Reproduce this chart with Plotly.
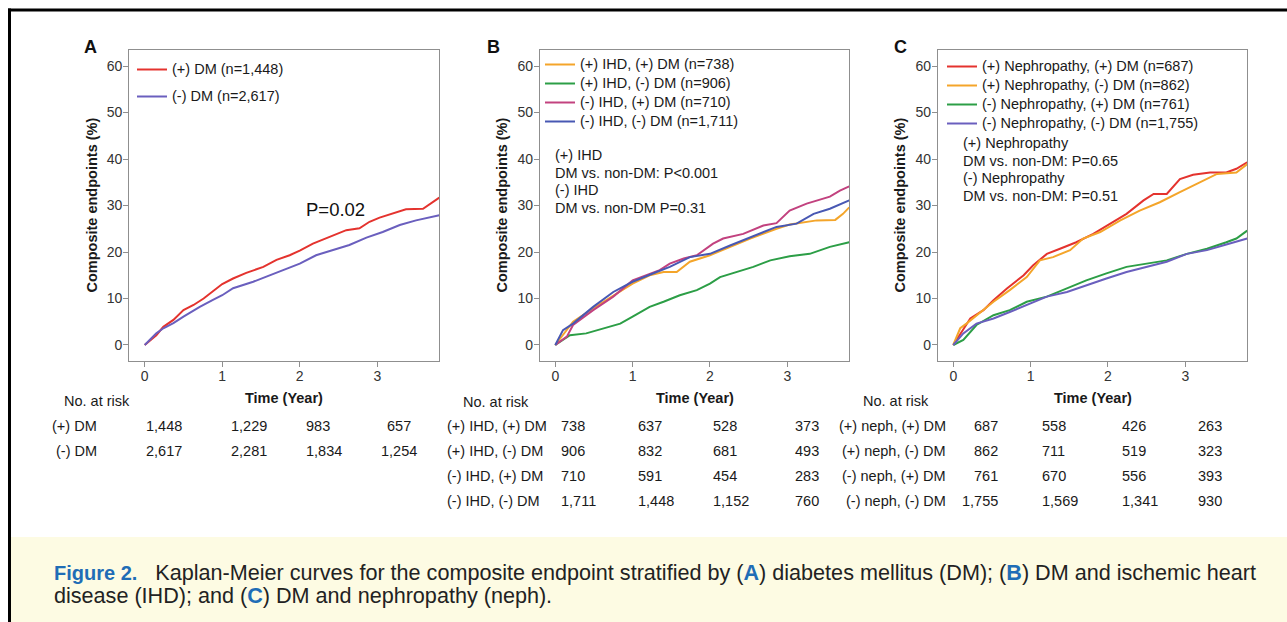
import plotly.graph_objects as go

W, H = 1287, 622

# ---------------- data ----------------
# Panel A
A_pos_t = [0, 0.15, 0.24, 0.37, 0.5, 0.63, 0.76, 0.88, 1.0, 1.14, 1.31, 1.53, 1.70, 1.87, 2.0, 2.17, 2.43, 2.6, 2.77, 2.9, 3.03, 3.2, 3.37, 3.59, 3.72, 3.8]
A_pos_v = [0, 2.1, 3.9, 5.4, 7.5, 8.6, 10.0, 11.5, 13.1, 14.3, 15.5, 16.8, 18.3, 19.3, 20.3, 21.8, 23.6, 24.7, 25.1, 26.5, 27.4, 28.3, 29.2, 29.3, 30.8, 31.7]
A_neg_t = [0, 0.15, 0.24, 0.37, 0.5, 0.71, 0.88, 1.0, 1.14, 1.4, 1.57, 1.79, 2.0, 2.21, 2.43, 2.64, 2.86, 3.07, 3.29, 3.5, 3.8]
A_neg_v = [0, 2.5, 3.6, 4.7, 6.1, 8.2, 9.7, 10.7, 12.2, 13.6, 14.7, 16.1, 17.5, 19.3, 20.4, 21.5, 23.1, 24.3, 25.8, 26.8, 27.9]

# Panel B
B_ihd_dm_t = [0, 0.1, 0.23, 0.49, 0.75, 1.0, 1.22, 1.4, 1.57, 1.74, 2.0, 2.26, 2.52, 2.86, 3.03, 3.38, 3.62, 3.72, 3.8]
B_ihd_dm_v = [0, 2.1, 5.0, 7.9, 10.7, 13.2, 15.0, 15.7, 15.7, 17.9, 19.3, 21.1, 22.9, 25.0, 25.9, 26.8, 26.9, 28.2, 29.6]
B_ihd_nodm_t = [0, 0.1, 0.19, 0.4, 0.62, 0.84, 1.0, 1.22, 1.4, 1.61, 1.83, 2.0, 2.13, 2.34, 2.56, 2.78, 3.03, 3.29, 3.55, 3.8]
B_ihd_nodm_v = [0, 1.1, 2.1, 2.5, 3.6, 4.6, 6.1, 8.2, 9.3, 10.7, 11.8, 13.2, 14.6, 15.7, 16.8, 18.2, 19.1, 19.6, 21.1, 22.1]
B_noihd_dm_t = [0, 0.15, 0.23, 0.49, 0.75, 1.0, 1.35, 1.48, 1.66, 1.83, 2.04, 2.17, 2.43, 2.69, 2.86, 3.03, 3.25, 3.55, 3.68, 3.8]
B_noihd_dm_v = [0, 1.8, 4.3, 7.5, 10.4, 13.9, 16.1, 17.5, 18.6, 19.3, 21.8, 22.9, 23.9, 25.7, 26.2, 28.9, 30.4, 31.9, 33.2, 34.1]
B_noihd_nodm_t = [0, 0.1, 0.23, 0.49, 0.75, 1.0, 1.31, 1.48, 1.74, 2.0, 2.26, 2.52, 2.86, 3.12, 3.34, 3.55, 3.8]
B_noihd_nodm_v = [0, 3.2, 4.6, 8.2, 11.4, 13.6, 15.7, 16.8, 18.9, 19.6, 21.4, 23.2, 25.4, 26.1, 28.2, 29.3, 31.1]

# Panel C
C_neph_dm_t = [0, 0.13, 0.22, 0.39, 0.52, 0.69, 0.91, 1.03, 1.21, 1.38, 1.59, 1.81, 2.03, 2.24, 2.46, 2.59, 2.76, 2.93, 3.1, 3.32, 3.53, 3.66, 3.8]
C_neph_dm_v = [0, 3.2, 5.7, 7.5, 9.6, 12.1, 15.0, 17.1, 19.6, 20.7, 22.1, 23.9, 26.1, 28.2, 31.1, 32.5, 32.5, 35.7, 36.6, 37.1, 37.1, 37.9, 39.3]
C_neph_nodm_t = [0, 0.09, 0.17, 0.3, 0.52, 0.73, 0.95, 1.12, 1.29, 1.51, 1.68, 1.9, 2.16, 2.41, 2.67, 2.93, 3.23, 3.41, 3.66, 3.8]
C_neph_nodm_v = [0, 3.6, 4.6, 6.4, 9.3, 11.8, 14.6, 18.2, 18.9, 20.4, 22.9, 24.3, 26.8, 28.9, 30.7, 32.9, 35.4, 36.8, 37.1, 38.9]
C_noneph_dm_t = [0, 0.13, 0.3, 0.52, 0.73, 0.95, 1.21, 1.47, 1.72, 1.98, 2.24, 2.5, 2.76, 3.02, 3.28, 3.53, 3.66, 3.8]
C_noneph_dm_v = [0, 1.1, 4.3, 6.4, 7.5, 9.3, 10.4, 12.1, 13.9, 15.4, 16.8, 17.5, 18.2, 19.6, 20.7, 22.1, 22.9, 24.6]
C_noneph_nodm_t = [0, 0.13, 0.3, 0.52, 0.73, 0.95, 1.21, 1.47, 1.72, 1.98, 2.24, 2.5, 2.76, 3.02, 3.28, 3.53, 3.8]
C_noneph_nodm_v = [0, 2.5, 4.6, 5.7, 7.1, 8.6, 10.4, 11.4, 12.9, 14.3, 15.7, 16.8, 17.9, 19.6, 20.4, 21.6, 22.9]

A_names = ["(+) DM (n=1,448)", "(-) DM (n=2,617)"]
B_names = ["(+) IHD, (+) DM (n=738)", "(+) IHD, (-) DM (n=906)", "(-) IHD, (+) DM (n=710)", "(-) IHD, (-) DM (n=1,711)"]
C_names = ["(+) Nephropathy, (+) DM (n=687)", "(+) Nephropathy, (-) DM (n=862)", "(-) Nephropathy, (+) DM (n=761)", "(-) Nephropathy, (-) DM (n=1,755)"]

x_ticks = [0, 1, 2, 3]
y_ticks = [0, 10, 20, 30, 40, 50, 60]

A_risk_labels = ["(+) DM", "(-) DM"]
A_risk = [[1448, 1229, 983, 657], [2617, 2281, 1834, 1254]]
B_risk_labels = ["(+) IHD, (+) DM", "(+) IHD, (-) DM", "(-) IHD, (+) DM", "(-) IHD, (-) DM"]
B_risk = [[738, 637, 528, 373], [906, 832, 681, 493], [710, 591, 454, 283], [1711, 1448, 1152, 760]]
C_risk_labels = ["(+) neph, (+) DM", "(+) neph, (-) DM", "(-) neph, (+) DM", "(-) neph, (-) DM"]
C_risk = [[687, 558, 426, 263], [862, 711, 519, 323], [761, 670, 556, 393], [1755, 1569, 1341, 930]]

B_note = ["(+) IHD", "DM vs. non-DM: P<0.001", "(-) IHD", "DM vs. non-DM P=0.31"]
C_note = ["(+) Nephropathy", "DM vs. non-DM: P=0.65", "(-) Nephropathy", "DM vs. non-DM: P=0.51"]

# ---------------- styling ----------------
FONT = "Liberation Sans, Arial, Helvetica, sans-serif"
NARROW = "Liberation Sans Narrow, Arial Narrow, Liberation Sans, Arial, sans-serif"
RED, ORANGE, GREEN, MAGENTA, BLUE, PURPLE = "#e4332e", "#f4a52a", "#2c9e46", "#c2427f", "#4858b3", "#6a5fbe"
AXC = "#8f8f8f"

def px(x):
    return x / W

def py(y):
    return 1 - y / H

fig = go.Figure()

def add(t, v, name, color, xa, ya, leg, grp):
    fig.add_trace(go.Scatter(
        x=t, y=v, mode="lines", line=dict(color=color, width=2),
        name='<span style="font-size:14.5px">%s</span>' % name,
        xaxis=xa, yaxis=ya, legend=leg, legendgroup=grp, hoverinfo="skip"))

add(A_pos_t, A_pos_v, A_names[0], RED, "x", "y", "legend", "a1")
add(A_neg_t, A_neg_v, A_names[1], PURPLE, "x", "y", "legend", "a2")
add(B_ihd_dm_t, B_ihd_dm_v, B_names[0], ORANGE, "x2", "y2", "legend2", "b1")
add(B_ihd_nodm_t, B_ihd_nodm_v, B_names[1], GREEN, "x2", "y2", "legend2", "b2")
add(B_noihd_dm_t, B_noihd_dm_v, B_names[2], MAGENTA, "x2", "y2", "legend2", "b3")
add(B_noihd_nodm_t, B_noihd_nodm_v, B_names[3], BLUE, "x2", "y2", "legend2", "b4")
add(C_neph_dm_t, C_neph_dm_v, C_names[0], RED, "x3", "y3", "legend3", "c1")
add(C_neph_nodm_t, C_neph_nodm_v, C_names[1], ORANGE, "x3", "y3", "legend3", "c2")
add(C_noneph_dm_t, C_noneph_dm_v, C_names[2], GREEN, "x3", "y3", "legend3", "c3")
add(C_noneph_nodm_t, C_noneph_nodm_v, C_names[3], PURPLE, "x3", "y3", "legend3", "c4")

panels = [  # (left px, right px)
    (129.2, 439.3),
    (539.8, 849.2),
    (937.8, 1247.2),
]
top_px, bot_px = 50.2, 360.8

axis_common = dict(showline=True, mirror=True, linecolor=AXC, linewidth=1,
                   ticks="outside", ticklen=5, tickcolor=AXC, tickwidth=1,
                   showgrid=False, zeroline=False,
                   tickfont=dict(family=FONT, size=14, color="#333333"))
layout_axes = {}
for i, (l, r) in enumerate(panels):
    sx = "" if i == 0 else str(i + 1)
    layout_axes["xaxis" + sx] = dict(domain=[px(l), px(r)], range=[-0.2, 3.8], ticklabelstandoff=-3,
                                      tickvals=x_ticks, anchor="y" + sx, **axis_common)
    layout_axes["yaxis" + sx] = dict(domain=[py(bot_px), py(top_px)], range=[-3.4, 63.4], ticklabelstandoff=-2,
                                      tickvals=y_ticks, anchor="x" + sx, **axis_common)

ann = []

def text(x, y, s, size=14.5, bold=False, xanchor="left", color="#1a1a1a", angle=0, fam=FONT):
    ann.append(dict(x=px(x), y=py(y), xref="paper", yref="paper", text=("<b>%s</b>" % s) if bold else s,
                    showarrow=False, xanchor=xanchor, yanchor="middle", textangle=angle,
                    font=dict(family=fam, size=size, color=color)))

# panel letters and axis titles
for (lx, letter), (l, r), ytx in zip([(90, "A"), (493, "B"), (900, "C")], panels, [92, 502, 900]):
    text(lx, 47, letter, size=18, bold=True, xanchor="center", color="#111")
    text(ytx, 205.5, "Composite endpoints (%)", size=14.5, bold=True, xanchor="center", angle=-90)
    text((l + r) / 2, 397.5, "Time (Year)", size=14.5, bold=True, xanchor="center")

text(335, 210, "P=0.02", size=18.5, xanchor="center", color="#111")
for k, s in enumerate(B_note):
    text(552.7, 155 + 17.6 * k, s)
for k, s in enumerate(C_note):
    text(960.7, 143.3 + 17.5 * k, s)

# risk tables
text(97, 401, "No. at risk", xanchor="center")
text(496, 401.5, "No. at risk", xanchor="center")
text(896, 401, "No. at risk", xanchor="center")

def fmt(n):
    return f"{n:,}"

rowsA = [426, 450.5]
rowsBC = [426, 451, 476, 501]
for r, lab in enumerate(A_risk_labels):
    text(99, rowsA[r], lab, xanchor="right")
    for c, (xp, xa) in enumerate([(144, "left"), (229, "left"), (304, "left"), (399, "center")]):
        text(xp, rowsA[r], fmt(A_risk[r][c]), xanchor=xa)
for r, lab in enumerate(B_risk_labels):
    text(445, rowsBC[r], lab, xanchor="left")
    for c, (xp, xa) in enumerate([(559, "left"), (636, "left"), (711, "left"), (793, "left")]):
        text(xp, rowsBC[r], fmt(B_risk[r][c]), xanchor=xa)
for r, lab in enumerate(C_risk_labels):
    text(948, rowsBC[r], lab, xanchor="right")
    for c, (xp, xa) in enumerate([(1000, "right"), (1040, "left"), (1120, "left"), (1196, "left")]):
        text(xp, rowsBC[r], fmt(C_risk[r][c]), xanchor=xa)

# caption
CAPBLUE = "#1f6db6"
fig_lbl = '<span style="font-family:%s;color:%s;font-size:20px"><b>Figure 2.</b></span>' % (NARROW, CAPBLUE)
cap1 = (fig_lbl + '\u00a0\u00a0\u00a0Kaplan-Meier curves for the composite endpoint '
        'stratified by (<span style="color:%s"><b>A</b></span>) diabetes mellitus (DM); (<span style="color:%s"><b>B</b></span>) '
        'DM and ischemic heart') % (CAPBLUE, CAPBLUE)
cap2 = 'disease (IHD); and (<span style="color:%s"><b>C</b></span>) DM and nephropathy (neph).' % CAPBLUE
text(52, 572, cap1, size=21.6, color="#222")
text(52, 595, cap2, size=21.6, color="#222")

shapes = [
    dict(type="rect", xref="paper", yref="paper", x0=px(11), x1=1, y0=0, y1=py(537),
         fillcolor="#fdfbe3", line=dict(width=0), layer="below"),
    dict(type="line", xref="paper", yref="paper", x0=px(8), x1=1, y0=py(10), y1=py(10),
         line=dict(color="#000", width=3)),
    dict(type="line", xref="paper", yref="paper", x0=px(9.5), x1=px(9.5), y0=0, y1=py(8.5),
         line=dict(color="#000", width=3)),
]

leg_common = dict(bgcolor="rgba(0,0,0,0)", borderwidth=0, font=dict(family=FONT, size=12, color="#1a1a1a"),
                  xanchor="left", yanchor="top", xref="paper", yref="paper", itemwidth=30,
                  traceorder="grouped", itemclick=False, itemdoubleclick=False)

fig.update_layout(
    width=W, height=H, margin=dict(l=0, r=0, t=0, b=0),
    paper_bgcolor="white", plot_bgcolor="white",
    font=dict(family=FONT, color="#1a1a1a"),
    annotations=ann, shapes=shapes,
    legend=dict(x=px(132), y=py(55), tracegroupgap=8, **leg_common),
    legend2=dict(x=px(540), y=py(50), tracegroupgap=0, **leg_common),
    legend3=dict(x=px(942), y=py(52), tracegroupgap=0, **leg_common),
    showlegend=True,
    **layout_axes,
)

fig.write_html("out.html", config={"displayModeBar": False},
               post_script="document.body.style.margin='0';document.body.style.overflow='hidden';")
